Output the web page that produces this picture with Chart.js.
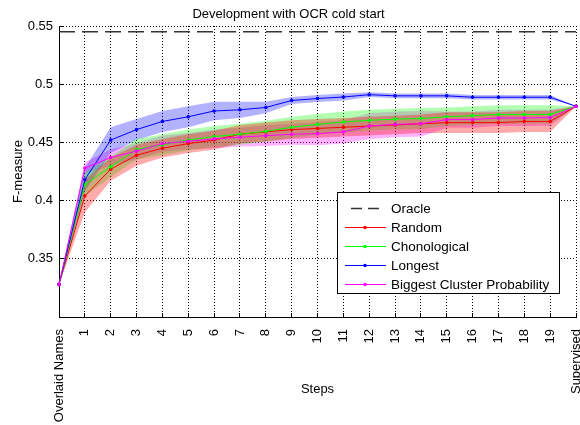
<!DOCTYPE html>
<html>
<head>
<meta charset="utf-8">
<script src="https://cdn.jsdelivr.net/npm/chart.js@4.4.1/dist/chart.umd.min.js"></script>
<style>
  html, body { margin: 0; padding: 0; background: #fff; }
</style>
</head>
<body>
<canvas id="chart" width="580" height="425"></canvas>
<script>
// x categories: start, steps 1..19, end
const steps = ['Overlaid Names', '1', '2', '3', '4', '5', '6', '7', '8', '9', '10',
  '11', '12', '13', '14', '15', '16', '17', '18', '19', 'Supervised'];

const oracle = 0.545;

// mean F-measure per step
const random = [0.328, 0.404, 0.427, 0.439, 0.445, 0.449, 0.452, 0.457, 0.459, 0.461, 0.462,
  0.463, 0.464, 0.465, 0.466, 0.467, 0.467, 0.467, 0.468, 0.468, 0.481];
const chrono = [0.328, 0.414, 0.429, 0.444, 0.448, 0.452, 0.455, 0.457, 0.4595, 0.463, 0.4655,
  0.4675, 0.469, 0.470, 0.4705, 0.472, 0.473, 0.474, 0.474, 0.474, 0.481];
const longest = [0.328, 0.418, 0.452, 0.461, 0.468, 0.472, 0.477, 0.478, 0.480, 0.486, 0.4877,
  0.489, 0.491, 0.490, 0.490, 0.490, 0.4888, 0.4888, 0.4888, 0.4888, 0.481];
const biggest = [0.328, 0.428, 0.437, 0.4425, 0.449, 0.451, 0.453, 0.4545, 0.4558, 0.457, 0.4575,
  0.459, 0.464, 0.4655, 0.466, 0.4696, 0.4696, 0.471, 0.471, 0.4713, 0.481];

// half width of the shaded bands
const randomSpread = [0, 0.014, 0.010, 0.009, 0.008, 0.008, 0.008, 0.008, 0.008, 0.008, 0.008,
  0.008, 0.008, 0.008, 0.008, 0.009, 0.009, 0.009, 0.009, 0.009, 0];
const chronoSpread = [0, 0.010, 0.009, 0.009, 0.009, 0.009, 0.009, 0.009, 0.009, 0.009, 0.009,
  0.009, 0.009, 0.009, 0.009, 0.008, 0.008, 0.008, 0.008, 0.008, 0];
const longestSpread = [0, 0.010, 0.011, 0.009, 0.009, 0.009, 0.008, 0.007, 0.005, 0.003, 0.003,
  0.003, 0.002, 0.002, 0.002, 0.002, 0.002, 0.002, 0.002, 0.002, 0];
const biggestSpread = [0, 0.005, 0.007, 0.007, 0.007, 0.007, 0.008, 0.008, 0.009, 0.009, 0.010,
  0.010, 0.011, 0.011, 0.011, 0.007, 0.007, 0.007, 0.007, 0.007, 0];

const yTicks = [0.3, 0.35, 0.4, 0.45, 0.5, 0.55];

Chart.defaults.font.family = "'Liberation Sans', Arial, sans-serif";
Chart.defaults.font.size = 13;
Chart.defaults.color = '#000';

// topmost line first
const series = [
  { label: 'Biggest Cluster Probability', mean: biggest, spread: biggestSpread, color: '#ff00ff', fillColor: 'rgba(255,0,255,0.3)' },
  { label: 'Longest', mean: longest, spread: longestSpread, color: '#0000ff', fillColor: 'rgba(0,0,255,0.3)' },
  { label: 'Chonological', mean: chrono, spread: chronoSpread, color: '#00ff00', fillColor: 'rgba(0,255,0,0.3)' },
  { label: 'Random', mean: random, spread: randomSpread, color: '#ff0000', fillColor: 'rgba(255,0,0,0.33)' }
];

const datasets = [];
datasets.push({
  label: 'Oracle',
  data: steps.map(() => oracle),
  borderColor: '#333',
  borderWidth: 1.5,
  borderDash: [16, 7],
  pointRadius: 0,
  fill: false,
  order: 0
});
series.forEach((s, i) => {
  datasets.push({
    label: s.label,
    data: s.mean,
    borderColor: s.color,
    backgroundColor: s.color,
    borderWidth: 1,
    pointRadius: 1.8,
    pointBorderWidth: 0,
    pointBackgroundColor: s.color,
    fill: false,
    order: i + 1
  });
});
// bands: upper edge then lower edge filled to it
series.slice().reverse().forEach((s, i) => {
  datasets.push({
    label: s.label + ' upper',
    data: s.mean.map((v, k) => v + s.spread[k]),
    borderWidth: 0,
    pointRadius: 0,
    fill: false,
    order: 20 + i
  });
  datasets.push({
    label: s.label + ' lower',
    data: s.mean.map((v, k) => v - s.spread[k]),
    borderWidth: 0,
    pointRadius: 0,
    backgroundColor: s.fillColor,
    fill: datasets.length - 1,
    order: 20 + i
  });
});

const legendNames = ['Oracle', 'Random', 'Chonological', 'Longest', 'Biggest Cluster Probability'];

// legend box drawn inside the plot, lower right
const legendBox = {
  id: 'legendBox',
  afterDraw(chart) {
    const ctx = chart.ctx, a = chart.chartArea;
    const w = 222, h = 101;
    const x = Math.round(a.right - 17 - w), y = Math.round(a.bottom - 24 - h);
    ctx.save();
    ctx.fillStyle = '#fff';
    ctx.fillRect(x, y, w, h);
    ctx.strokeStyle = '#000';
    ctx.lineWidth = 1;
    ctx.strokeRect(x + 0.5, y + 0.5, w, h);
    ctx.font = "13.5px 'Liberation Sans', Arial, sans-serif";
    ctx.textBaseline = 'middle';
    legendNames.forEach((name, i) => {
      const ds = chart.data.datasets.find(d => d.label === name);
      const cy = Math.round(y + 15.5 + i * 19.2) + 0.5;
      ctx.strokeStyle = ds.borderColor;
      ctx.lineWidth = ds.borderWidth;
      ctx.beginPath();
      if (name === 'Oracle') {
        ctx.setLineDash([11, 6]);
        ctx.moveTo(x + 14, cy);
        ctx.lineTo(x + 42, cy);
      } else {
        ctx.setLineDash([]);
        ctx.moveTo(x + 8, cy);
        ctx.lineTo(x + 49, cy);
      }
      ctx.stroke();
      ctx.setLineDash([]);
      if (ds.pointRadius) {
        ctx.fillStyle = ds.borderColor;
        ctx.beginPath();
        ctx.arc(x + 28, cy, ds.pointRadius, 0, Math.PI * 2);
        ctx.fill();
      }
      ctx.fillStyle = '#000';
      ctx.fillText(name, x + 54, cy + 1);
    });
    ctx.restore();
  }
};

new Chart(document.getElementById('chart'), {
  type: 'line',
  data: { labels: steps, datasets: datasets },
  options: {
    responsive: false,
    animation: false,
    layout: { padding: { right: 3 } },
    plugins: {
      legend: { display: false },
      tooltip: { enabled: false },
      filler: { drawTime: 'beforeDatasetsDraw' },
      title: {
        display: true,
        text: 'Development with OCR cold start',
        font: { size: 13, weight: 'normal' },
        color: '#000',
        padding: { top: 7, bottom: 3.4 }
      }
    },
    scales: {
      x: {
        type: 'category',
        grid: { color: '#000', lineWidth: 1, tickLength: -4, tickColor: '#000' },
        border: { display: true, color: '#000', width: 1, dash: [1, 2] },
        ticks: { minRotation: 90, maxRotation: 90, autoSkip: false, padding: 16, color: '#000' },
        title: { display: true, text: 'Steps', color: '#000', font: { size: 13 }, padding: { top: 0, bottom: 28 } },
        afterFit(scale) {
          scale.height = 108;
          scale.paddingLeft = 0;
          scale.paddingRight = 0;
        }
      },
      y: {
        min: 0.3,
        max: 0.55,
        afterBuildTicks(scale) {
          scale.ticks = yTicks.map(v => ({ value: v }));
        },
        grid: { color: '#000', lineWidth: 1, tickLength: -4, tickColor: '#000' },
        border: { display: true, color: '#000', width: 1, dash: [1, 2] },
        ticks: {
          padding: 10,
          color: '#000',
          callback: v => (Math.abs(v - 0.3) < 1e-9 ? '' : String(Number(v.toFixed(2))))
        },
        title: { display: true, text: 'F-measure', color: '#000', font: { size: 13 }, padding: { top: 11, bottom: 0 } },
        afterFit(scale) {
          scale.width = 59;
        }
      }
    }
  },
  plugins: [legendBox]
});
</script>
</body>
</html>
